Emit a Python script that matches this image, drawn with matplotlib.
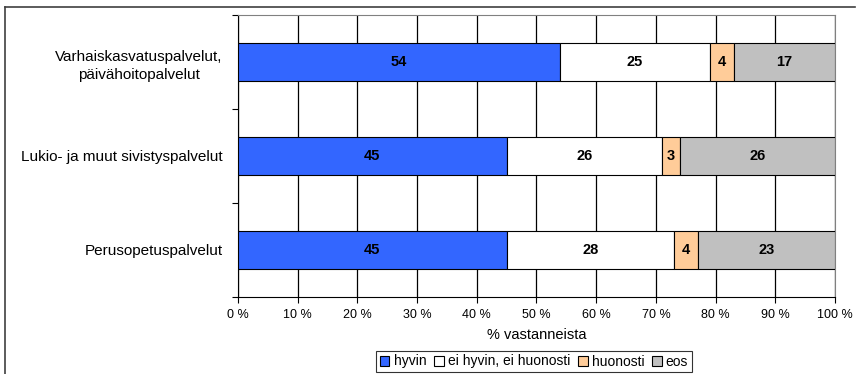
import matplotlib
matplotlib.use("Agg")
import matplotlib.pyplot as plt
from matplotlib.patches import Patch
from matplotlib.lines import Line2D
import numpy as np

plt.rcParams['font.family'] = ['Liberation Sans', 'DejaVu Sans']

categories = ["Varhaiskasvatuspalvelut,\npäivähoitopalvelut",
              "Lukio- ja muut sivistyspalvelut",
              "Perusopetuspalvelut"]
series_names = ["hyvin", "ei hyvin, ei huonosti", "huonosti", "eos"]
hyvin = [54, 45, 45]
neutral = [25, 26, 28]
huonosti = [4, 3, 4]
eos = [17, 26, 23]
colors = ["#3366FF", "#FFFFFF", "#FFCC99", "#C0C0C0"]
xticks = [0, 10, 20, 30, 40, 50, 60, 70, 80, 90, 100]
xticklabels = [f"{t} %" for t in xticks]

W, H = 859, 374
fig = plt.figure(figsize=(W / 100, H / 100), dpi=100)
ax = fig.add_axes([238 / W, 1 - 297 / H, (835 - 238) / W, (297 - 15) / H])

y = np.arange(len(categories))[::-1]  # top category at top
data = [hyvin, neutral, huonosti, eos]
left = np.zeros(len(categories))
for vals, col, name in zip(data, colors, series_names):
    vals = np.array(vals, dtype=float)
    ax.barh(y, vals, left=left, height=0.405, color=col, edgecolor="black",
            linewidth=0.8, label=name, zorder=3)
    for yi, l, v in zip(y, left, vals):
        ax.text(l + v / 2, yi, f"{int(v)}", ha="center", va="center",
                fontsize=10.5, fontweight="bold", color="black", zorder=4)
    left += vals

ax.set_xlim(0, 100)
ax.set_ylim(-0.5, 2.5)
ax.set_xticks(xticks)
ax.set_xticklabels(xticklabels, fontsize=9)
ax.xaxis.grid(True, color="black", linewidth=0.9, zorder=0)
ax.set_yticks(y)
ax.set_yticklabels(categories, fontsize=11, multialignment="center",
                   linespacing=1.4)
ax.tick_params(axis="y", length=0, pad=11)
ax.set_yticks([-0.5, 0.5, 1.5, 2.5], minor=True)
ax.tick_params(axis="y", which="minor", length=4, width=0.8, direction="out")
ax.tick_params(axis="x", length=4, width=0.8, direction="out", pad=5)
ax.set_xlabel("% vastanneista", fontsize=10.5, labelpad=5)

for s in ["top", "right"]:
    ax.spines[s].set_color("#808080")
    ax.spines[s].set_linewidth(0.8)
for s in ["left", "bottom"]:
    ax.spines[s].set_color("black")
    ax.spines[s].set_linewidth(0.8)

handles = [Patch(facecolor=c, edgecolor="black", linewidth=0.8) for c in colors]
leg = fig.legend(handles, series_names, loc="center",
                 bbox_to_anchor=(534 / W, 1 - 361.5 / H), ncol=4, fontsize=10,
                 frameon=True, fancybox=False, edgecolor="black",
                 handlelength=0.7, handleheight=0.7, handletextpad=0.3,
                 columnspacing=0.55, borderpad=0.25, borderaxespad=0)
leg.get_frame().set_linewidth(0.8)

# outer chart border (top and left)
fig.add_artist(Line2D([5 / W, 855 / W], [1 - 7 / H, 1 - 7 / H],
                      transform=fig.transFigure, color="#404040", linewidth=1.2))
fig.add_artist(Line2D([5 / W, 5 / W], [1 - 7 / H, 0],
                      transform=fig.transFigure, color="#404040", linewidth=1.2))

fig.savefig("out.png", dpi=100)
